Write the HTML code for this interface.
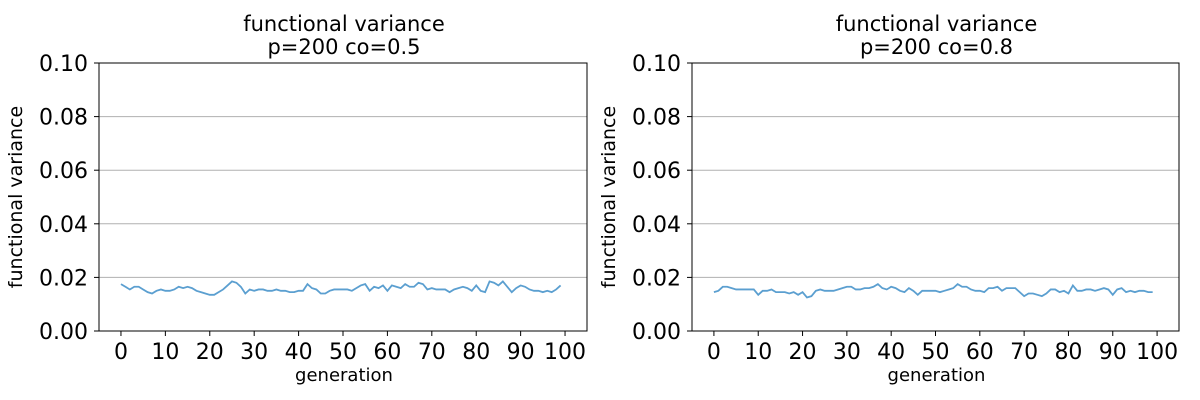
<!DOCTYPE html>
<html><head><meta charset="utf-8"><style>body{margin:0;background:#fff}svg{display:block;font-family:"DejaVu Sans","Liberation Sans",sans-serif}</style></head>
<body>
<svg id="fig" width="1200" height="400"></svg>
<script>
const gens = Array.from({length:100},(_, i)=>i);
const seriesA = [0.0175,0.0165,0.0155,0.0165,0.0165,0.0155,0.0145,0.014,0.015,0.0155,0.015,0.015,0.0155,0.0165,0.016,0.0165,0.016,0.015,0.0145,0.014,0.0135,0.0135,0.0145,0.0155,0.017,0.0185,0.018,0.0165,0.014,0.0155,0.015,0.0155,0.0155,0.015,0.015,0.0155,0.015,0.015,0.0145,0.0145,0.015,0.015,0.0175,0.016,0.0155,0.014,0.014,0.015,0.0155,0.0155,
0.0155,0.0155,0.015,0.016,0.017,0.0175,0.015,0.0165,0.016,0.017,0.015,0.017,0.0165,0.016,0.0175,0.0165,0.0165,0.018,0.0175,0.0155,0.016,0.0155,0.0155,0.0155,0.0145,0.0155,0.016,0.0165,0.016,0.015,0.017,0.015,0.0145,0.0185,0.018,0.017,0.0185,0.0165,0.0145,0.016,0.017,0.0165,0.0155,0.015,0.015,0.0145,0.015,0.0145,0.0155,0.017];
const seriesB = [0.0145,0.015,0.0165,0.0165,0.016,0.0155,0.0155,0.0155,0.0155,0.0155,0.0135,0.015,0.015,0.0155,0.0145,0.0145,0.0145,0.014,0.0145,0.0135,0.0145,0.0125,0.013,0.015,0.0155,0.015,0.015,0.015,0.0155,0.016,0.0165,0.0165,0.0155,0.0155,0.016,0.016,0.0165,0.0175,0.016,0.0155,0.0165,0.016,0.015,0.0145,0.016,0.015,0.0135,0.015,0.015,0.015,0.015,0.0145,0.015,0.0155,0.016,0.0175,0.0165,0.0165,0.0155,0.015,0.015,0.0145,0.016,0.016,0.0165,0.015,0.016,0.016,0.016,0.0145,0.013,0.014,0.014,0.0135,0.013,0.014,0.0155,0.0155,0.0145,0.015,0.014,0.017,0.015,0.015,0.0155,0.0155,0.015,0.0155,0.016,0.0155,0.0135,0.0155,0.016,0.0145,0.015,0.0145,0.015,0.015,0.0145,0.0145];
const yTicks = [0,0.02,0.04,0.06,0.08,0.10];
const xTicks = [0,10,20,30,40,50,60,70,80,90,100];
const titles = ["p=200 co=0.5","p=200 co=0.8"];
const NS="http://www.w3.org/2000/svg", svg=document.getElementById('fig');
function mk(t,a,p){const e=document.createElementNS(NS,t);for(const k in a)e.setAttribute(k,a[k]);(p||svg).appendChild(e);return e;}
function panel(L,R,data,sub,idx){
  const T=63,B=331, x0=L+(R-L)*0.045, x1=R-(R-L)*0.045;
  const xs=v=>x0+(v-0)/(100-0)*(x1-x0), ys=v=>B-(v/0.1)*(B-T);
  const g=mk('g',{});
  
  
  yTicks.forEach(t=>{
    if(t>0&&t<0.1){const gl=mk('line',{x1:L,x2:R,y1:ys(t),y2:ys(t),stroke:'#b0b0b0','stroke-width':1},g);
    }
    mk('line',{x1:L-5,x2:L,y1:ys(t),y2:ys(t),stroke:'#000'},g);
    const tx=mk('text',{x:L-11,y:ys(t)+8,'text-anchor':'end','font-size':22},g);tx.textContent=t.toFixed(2);
    
  });
  xTicks.forEach(t=>{
    mk('line',{x1:xs(t),x2:xs(t),y1:B,y2:B+5,stroke:'#000'},g);
    const tx=mk('text',{x:xs(t),y:B+28,'text-anchor':'middle','font-size':22},g);tx.textContent=t;
    
  });
  const pl=mk('polyline',{points:data.map((v,i)=>xs(gens[i])+','+ys(v)).join(' '),fill:'none',stroke:'#5b9fd0','stroke-width':1.8},g);
  
  const fr=mk('rect',{x:L,y:T,width:R-L,height:B-T,fill:'none',stroke:'#000','stroke-width':1},g);
  
  const cx=(L+R)/2+1;
  const t1=mk('text',{x:cx,y:31,'text-anchor':'middle','font-size':21},g);t1.textContent='functional variance';
  
  const t2=mk('text',{x:cx,y:54,'text-anchor':'middle','font-size':21},g);t2.textContent=sub;
  
  const xl=mk('text',{x:cx,y:381,'text-anchor':'middle','font-size':18},g);xl.textContent='generation';
  
  const yl=mk('text',{x:0,y:0,'text-anchor':'middle','font-size':19,transform:`translate(${L-77},${(T+B)/2}) rotate(-90)`},g);yl.textContent='functional variance';
  
}
panel(99,587,seriesA,titles[0],0);
panel(692,1179,seriesB,titles[1],1);
</script>
</body></html>
